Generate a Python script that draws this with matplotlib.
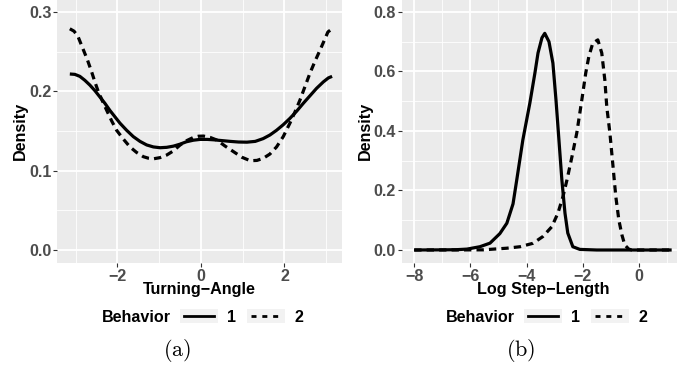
import matplotlib
matplotlib.use("Agg")
import matplotlib.pyplot as plt
from matplotlib.lines import Line2D
from matplotlib.patches import Patch
from matplotlib.legend_handler import HandlerTuple, HandlerLine2D

plt.rcParams['font.family'] = ['Liberation Sans', 'DejaVu Sans']
plt.rcParams['font.weight'] = 'bold'
plt.rcParams['mathtext.fontset'] = 'cm'

# (a) turning-angle densities
angle_x1 = [-3.14, -3.02, -2.90, -2.78, -2.66, -2.54, -2.42, -2.30, -2.18, -2.06, -1.94,
            -1.78, -1.62, -1.46, -1.30, -1.14, -0.98, -0.82, -0.66, -0.50, -0.35, -0.18,
            -0.02, 0.15, 0.30, 0.50, 0.70, 0.90, 1.10, 1.30, 1.49, 1.65, 1.81, 1.97, 2.13,
            2.29, 2.45, 2.61, 2.77, 2.93, 3.05, 3.14]
angle_y1 = [0.222, 0.2215, 0.219, 0.214, 0.208, 0.201, 0.193, 0.185, 0.176, 0.168, 0.160,
            0.151, 0.143, 0.137, 0.1325, 0.130, 0.129, 0.1295, 0.131, 0.1335, 0.1365, 0.1385,
            0.1395, 0.1395, 0.139, 0.138, 0.137, 0.1362, 0.136, 0.137, 0.1405, 0.145, 0.151,
            0.158, 0.166, 0.175, 0.185, 0.1945, 0.204, 0.212, 0.217, 0.219]
angle_x2 = [-3.14, -3.04, -2.95, -2.82, -2.72, -2.62, -2.54, -2.46, -2.36, -2.26, -2.14,
            -2.02, -1.86, -1.70, -1.54, -1.38, -1.26, -1.14, -0.98, -0.82, -0.66, -0.50,
            -0.34, -0.18, -0.06, 0.06, 0.22, 0.38, 0.58, 0.78, 0.98, 1.18, 1.34, 1.49, 1.65,
            1.81, 1.97, 2.13, 2.25, 2.37, 2.49, 2.61, 2.73, 2.85, 2.95, 3.04, 3.14]
angle_y2 = [0.279, 0.276, 0.270, 0.253, 0.240, 0.225, 0.212, 0.200, 0.188, 0.1765, 0.163,
            0.151, 0.140, 0.130, 0.123, 0.1177, 0.1158, 0.115, 0.1165, 0.1198, 0.125, 0.1324,
            0.138, 0.142, 0.1435, 0.1437, 0.142, 0.1387, 0.131, 0.124, 0.117, 0.1126, 0.113,
            0.1156, 0.121, 0.130, 0.143, 0.160, 0.174, 0.189, 0.206, 0.223, 0.238, 0.252,
            0.264, 0.275, 0.279]

# (b) log step-length densities
step_x1 = [-8.0, -7.0, -6.5, -6.12, -5.66, -5.30, -4.95, -4.70, -4.48, -4.34, -4.13, -3.88,
           -3.70, -3.59, -3.45, -3.35, -3.20, -3.06, -2.95, -2.85, -2.74, -2.63, -2.53, -2.35,
           -2.10, -1.5, 1.17]
step_y1 = [0.0, 0.0005, 0.001, 0.003, 0.011, 0.023, 0.055, 0.09, 0.155, 0.24, 0.37, 0.494,
           0.595, 0.662, 0.713, 0.728, 0.70, 0.628, 0.504, 0.376, 0.235, 0.124, 0.057, 0.011,
           0.002, 0.0, 0.0]
step_x2 = [-8.0, -6.5, -5.55, -4.70, -4.23, -3.77, -3.42, -3.10, -2.88, -2.70, -2.56, -2.38,
           -2.21, -2.03, -1.89, -1.78, -1.64, -1.46, -1.32, -1.21, -1.14, -1.03, -0.93, -0.82,
           -0.71, -0.60, -0.50, -0.36, -0.25, 1.17]
step_y2 = [0.0, 0.0002, 0.0005, 0.006, 0.011, 0.0225, 0.045, 0.078, 0.124, 0.18, 0.235, 0.314,
           0.393, 0.504, 0.595, 0.65, 0.695, 0.706, 0.662, 0.571, 0.48, 0.393, 0.292, 0.18,
           0.10, 0.05, 0.017, 0.003, 0.0, 0.0]

behaviors = ['1', '2']

W, H = 677, 371
fig = plt.figure(figsize=(W / 100, H / 100), dpi=100)

BG = '#EBEBEB'
LW = 2.3
DASH = (2.3, 1.6)
FS = 11.6


def px_axes(x0, x1, y0, y1):
    return fig.add_axes([x0 / W, 1 - y1 / H, (x1 - x0) / W, (y1 - y0) / H])


def style(ax, xmaj, xmin, ymaj, ymin, yfmt):
    ax.set_facecolor(BG)
    for s in ax.spines.values():
        s.set_visible(False)
    ax.set_xticks(xmaj)
    ax.set_xticks(xmin, minor=True)
    ax.set_yticks(ymaj)
    ax.set_yticks(ymin, minor=True)
    ax.set_yticklabels([yfmt.format(v) for v in ymaj])
    ax.set_xticklabels([f"{v:g}".replace('-', '\u2212') for v in xmaj])
    ax.grid(which='major', color='white', lw=1.3)
    ax.grid(which='minor', color='white', lw=0.6)
    ax.set_axisbelow(True)
    ax.tick_params(which='major', length=3.2, width=0.8, color='#333333',
                   labelcolor='#4D4D4D', labelsize=FS, pad=1.0)
    ax.tick_params(which='minor', length=0)


def draw(ax, x1, y1, x2, y2):
    ax.plot(x1, y1, color='black', lw=LW, solid_capstyle='butt', solid_joinstyle='round')
    ax.plot(x2, y2, color='black', lw=LW, dashes=DASH)


# left panel
axa = px_axes(57.3, 341.7, 0, 262.7)
draw(axa, angle_x1, angle_y1, angle_x2, angle_y2)
axa.set_xlim(-3.44, 3.37)
axa.set_ylim(-0.016, 0.3153)
style(axa, [-2, 0, 2], [-3, -1, 1, 3], [0.0, 0.1, 0.2, 0.3], [0.05, 0.15, 0.25], "{:.1f}")

# right panel
axb = px_axes(401.7, 677, 0, 262.7)
draw(axb, step_x1, step_y1, step_x2, step_y2)
axb.set_xlim(-8.445, 1.36)
axb.set_ylim(-0.0427, 0.840)
style(axb, [-8, -6, -4, -2, 0], [-7, -5, -3, -1, 1], [0.0, 0.2, 0.4, 0.6, 0.8],
      [0.1, 0.3, 0.5, 0.7], "{:.1f}")


def ftext(x, y, s, **kw):
    fig.text(x / W, 1 - y / H, s, **kw)


ftext(20.5, 131, 'Density', rotation=90, ha='center', va='center', fontsize=FS, color='black')
ftext(365, 131, 'Density', rotation=90, ha='center', va='center', fontsize=FS, color='black')
ftext(199.5, 289.5, 'Turning\u2212Angle', ha='center', va='center', fontsize=FS, color='black')
ftext(543, 289.5, 'Log Step\u2212Length', ha='center', va='center', fontsize=FS, color='black')

# legends
handles = [
    (Patch(facecolor='#F2F2F2', edgecolor='none'), Line2D([], [], color='black', lw=2.0)),
    (Patch(facecolor='#F2F2F2', edgecolor='none'), Line2D([], [], color='black', lw=2.0, dashes=(1.8, 2.1))),
]
hmap = {tuple: HandlerTuple(ndivide=1), Line2D: HandlerLine2D(marker_pad=0.25, numpoints=2)}
for key_left, title_right in [(180, 171), (524, 515)]:
    ftext(title_right, 317, 'Behavior', ha='right', va='center', fontsize=FS, color='black')
    leg = fig.legend(handles, behaviors, handler_map=hmap, loc='center left',
                     bbox_to_anchor=(key_left / W, 1 - 317 / H), ncol=2, frameon=False,
                     fontsize=FS, handlelength=2.36, handleheight=0.93, handletextpad=0.56,
                     columnspacing=0.68, borderpad=0, borderaxespad=0)

ftext(177.5, 351, r'$\mathrm{(a)}$', ha='center', va='center', fontsize=16)
ftext(521, 351, r'$\mathrm{(b)}$', ha='center', va='center', fontsize=16)

fig.savefig('out.png', dpi=100)
